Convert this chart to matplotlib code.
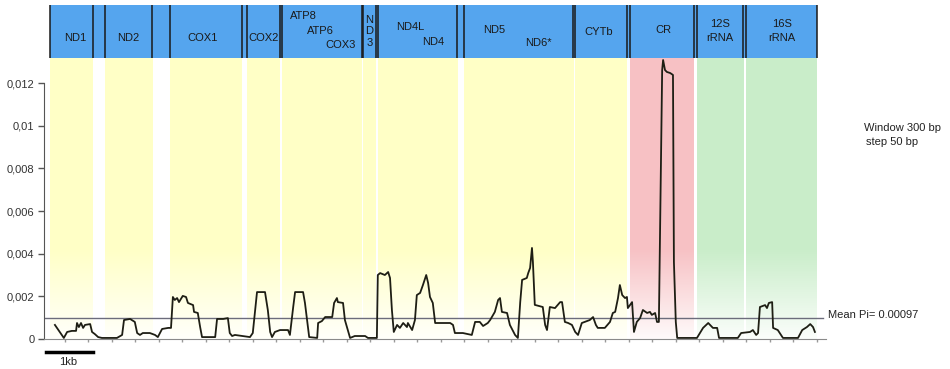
import matplotlib.pyplot as plt
import numpy as np

plt.rcParams['font.family'] = ['Liberation Sans', 'DejaVu Sans']

# sliding window nucleotide diversity (Pi) along the mt genome
position = [190, 380, 450, 550, 640, 660, 700, 745, 790, 830, 940, 980, 1040, 1110,
            1190, 1510, 1620, 1660, 1790, 1890, 1940, 2000, 2060, 2210, 2320, 2380,
            2470, 2600, 2660, 2680, 2700, 2740, 2790, 2830, 2910, 2980, 3020, 3130,
            3150, 3230, 3280, 3320, 3490, 3600, 3640, 3770, 3870, 3910, 3960, 4020,
            4340, 4400, 4490, 4660, 4720, 4770, 4810, 4870, 4980, 5150, 5190, 5260,
            5300, 5470, 5510, 5600, 5770, 5790, 5870, 5940, 6090, 6130, 6190, 6210,
            6320, 6360, 6470, 6570, 6790, 6850, 7040, 7060, 7110, 7210, 7280, 7320,
            7360, 7400, 7470, 7530, 7600, 7680, 7700, 7790, 7850, 7890, 7960, 8020,
            8090, 8130, 8170, 8230, 8280, 8600, 8660, 8700, 8870, 9060, 9130, 9230,
            9300, 9400, 9450, 9550, 9620, 9660, 9700, 9810, 9870, 9980, 10040, 10090,
            10130, 10230, 10260, 10300, 10340, 10360, 10400, 10570, 10620, 10660,
            10720, 10830, 10940, 10980, 11040, 11110, 11190, 11260, 11320, 11400,
            11570, 11640, 11700, 11740, 11890, 12000, 12060, 12110, 12170, 12210,
            12260, 12320, 12360, 12380, 12470, 12510, 12570, 12640, 12700, 12790,
            12850, 12890, 12960, 13000, 13040, 13090, 13110, 13130, 13170, 13210,
            13280, 13340, 13360, 13400, 13430, 13850, 13980, 14090, 14190, 14280,
            14320, 14720, 14790, 14980, 15040, 15110, 15150, 15190, 15300, 15340,
            15380, 15450, 15470, 15570, 15680, 16000, 16090, 16190, 16260, 16320,
            16360]
pi = [0.00066, 0.00005, 0.00033, 0.00038, 0.00038, 0.00075, 0.00056, 0.00075,
      0.00052, 0.00066, 0.00070, 0.00033, 0.00023, 0.00009, 0.00005, 0.00005,
      0.00019, 0.00089, 0.00094, 0.00080, 0.00028, 0.00019, 0.00028, 0.00028,
      0.00019, 0.00009, 0.00047, 0.00052, 0.00052, 0.00127, 0.00197, 0.00183,
      0.00192, 0.00173, 0.00202, 0.00197, 0.00169, 0.00159, 0.00127, 0.00122,
      0.00056, 0.00009, 0.00009, 0.00009, 0.00094, 0.00094, 0.00098, 0.00028,
      0.00014, 0.00019, 0.00009, 0.00028, 0.00220, 0.00220, 0.00136, 0.00033,
      0.00009, 0.00033, 0.00042, 0.00042, 0.00019, 0.00150, 0.00220, 0.00220,
      0.00169, 0.00009, 0.00005, 0.00075, 0.00084, 0.00103, 0.00103, 0.00169,
      0.00192, 0.00173, 0.00169, 0.00089, 0.00005, 0.00014, 0.00014, 0.00005,
      0.00005, 0.00300, 0.00309, 0.00300, 0.00314, 0.00286, 0.00136, 0.00033,
      0.00066, 0.00052, 0.00075, 0.00056, 0.00075, 0.00042, 0.00089, 0.00206,
      0.00216, 0.00253, 0.00300, 0.00263, 0.00197, 0.00169, 0.00075, 0.00075,
      0.00066, 0.00028, 0.00028, 0.00019, 0.00080, 0.00080, 0.00061, 0.00075,
      0.00089, 0.00127, 0.00183, 0.00192, 0.00127, 0.00122, 0.00066, 0.00019,
      0.00005, 0.00173, 0.00277, 0.00286, 0.00309, 0.00333, 0.00427, 0.00361,
      0.00160, 0.00150, 0.00066, 0.00042, 0.00150, 0.00145, 0.00173, 0.00173,
      0.00080, 0.00075, 0.00066, 0.00033, 0.00019, 0.00075, 0.00089, 0.00103,
      0.00066, 0.00052, 0.00052, 0.00080, 0.00122, 0.00127, 0.00192, 0.00253,
      0.00206, 0.00192, 0.00197, 0.00145, 0.00173, 0.00033, 0.00080, 0.00098,
      0.00136, 0.00122, 0.00127, 0.00113, 0.00122, 0.00080, 0.00080, 0.00924,
      0.01261, 0.01308, 0.01261, 0.01252, 0.01247, 0.01238, 0.00361, 0.00080,
      0.00005, 0.00005, 0.00052, 0.00075, 0.00052, 0.00052, 0.00005, 0.00005,
      0.00028, 0.00033, 0.00042, 0.00019, 0.00028, 0.00150, 0.00159, 0.00145,
      0.00169, 0.00173, 0.00052, 0.00042, 0.00005, 0.00005, 0.00042, 0.00056,
      0.00070, 0.00056, 0.00033]
mean_pi = 0.00097

# gene blocks (bp)
gene_start = [90, 1260, 2640, 4280, 5020, 6750, 7060, 8890, 11260, 12430, 13850, 14890]
gene_end = [1000, 2260, 4170, 4980, 6720, 7020, 8750, 11210, 12360, 13790, 14830, 16400]
gene_kind = ['cds'] * 9 + ['cr', 'rrna', 'rrna']

# header labels: text, x (bp), height in header (0..1)
header_labels = [
    ('ND1', 620, 0.38), ('ND2', 1750, 0.38), ('COX1', 3340, 0.38), ('COX2', 4620, 0.38),
    ('ATP8', 5470, 0.79), ('ATP6', 5830, 0.50), ('COX3', 6260, 0.25),
    ('N', 6880, 0.72), ('D', 6880, 0.51), ('3', 6880, 0.29),
    ('ND4L', 7740, 0.58), ('ND4', 8240, 0.31), ('ND5', 9530, 0.53), ('ND6*', 10470, 0.28),
    ('CYTb', 11770, 0.49), ('CR', 13130, 0.53),
    ('12S', 14340, 0.64), ('rRNA', 14340, 0.38), ('16S', 15660, 0.64), ('rRNA', 15660, 0.38),
]

yticks = [0, 0.002, 0.004, 0.006, 0.008, 0.01, 0.012]
ytick_labels = ['0', '0,002', '0,004', '0,006', '0,008', '0,01', '0,012']

fill_colors = {'cds': (1.0, 1.0, 0.78), 'cr': (0.97, 0.76, 0.77), 'rrna': (0.79, 0.93, 0.79)}

W, H = 950, 369
xmin, xmax = -40, 16600
ytop = 0.013174

fig = plt.figure(figsize=(W / 100, H / 100), dpi=100)
ax = fig.add_axes([44.1 / W, 30 / H, 782.1 / W, 281 / H])
hax = fig.add_axes([44.1 / W, (H - 58) / H, 782.1 / W, 53 / H])

# shaded gene regions fading to white at the bottom
ys = np.linspace(0, ytop, 400)
alpha = np.clip(0.08 + 0.92 * ys / 0.0042, 0, 1)
for s, e, k in zip(gene_start, gene_end, gene_kind):
    img = np.ones((len(ys), 1, 4))
    img[..., :3] = fill_colors[k]
    img[:, 0, 3] = alpha
    ax.imshow(img, extent=(s, e, 0, ytop), origin='lower', aspect='auto',
              interpolation='bilinear', zorder=0)

ax.axhline(mean_pi, xmin=0, xmax=(823 - 44.1) / 782.1, color='#6c6c7c', lw=1, zorder=2)
ax.plot(position, pi, color='#1e1e14', lw=1.3, zorder=3)

ax.set_xlim(xmin, xmax)
ax.set_ylim(0, ytop)
ax.set_yticks(yticks, ytick_labels)
ax.set_xticks(np.arange(400, 16500, 500))
ax.set_xticklabels([])
ax.tick_params(axis='y', length=4, width=1, color='#555555', labelcolor='#333333',
               labelsize=8, pad=3)
ax.tick_params(axis='x', length=2, width=1, color='#999999', direction='out')
for side in ['top', 'right']:
    ax.spines[side].set_visible(False)
ax.spines['left'].set_bounds(0, 0.012)
ax.spines['left'].set_color('#555555')
ax.spines['bottom'].set_color('#8a8a8a')
ax.patch.set_alpha(0)

# header with gene names
hax.set_xlim(xmin, xmax)
hax.set_ylim(0, 1)
hax.axis('off')
hax.add_patch(plt.Rectangle((gene_start[0], 0), gene_end[-1] - gene_start[0], 1,
                            color='#55a5ee', lw=0))
for s, e in zip(gene_start, gene_end):
    hax.plot([s, s], [0, 1], color='#1a1a1a', lw=1.1)
    hax.plot([e, e], [0, 1], color='#1a1a1a', lw=1.1)
for txt, x, y in header_labels:
    hax.text(x, y, txt, ha='center', va='center', fontsize=8, color='#1a1a1a')

# annotations
fig.text(828 / W, 1 - 315 / H, 'Mean Pi= 0.00097', ha='left', va='center',
         fontsize=8, color='#222222')
fig.text(864 / W, 1 - 128 / H, 'Window 300 bp', ha='left', va='center',
         fontsize=8, color='#222222')
fig.text(866 / W, 1 - 142 / H, 'step 50 bp', ha='left', va='center',
         fontsize=8, color='#222222')

# 1 kb scale bar
fig.add_artist(plt.Line2D([46 / W, 93 / W], [1 - 352 / H, 1 - 352 / H],
                          color='black', lw=2.5))
fig.text(68 / W, 1 - 362 / H, '1kb', ha='center', va='center', fontsize=8,
         color='#222222')

fig.savefig('out.png', dpi=100)
